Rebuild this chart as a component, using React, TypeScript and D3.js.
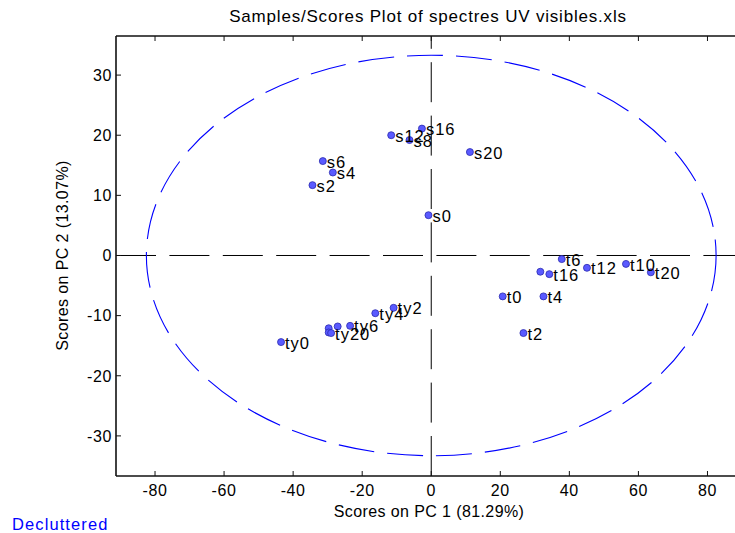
import * as d3 from 'd3';

// sample scores
const sampleNames = [
  's0', 's2', 's4', 's6', 's8', 's12', 's16', 's20',
  't0', 't2', 't4', 't6', 't8', 't16', 't12', 't10', 't20',
  'ty0', 'ty2', 'ty4', 'ty6', 'ty8', 'ty10', 'ty12', 'ty20'
];
const pc1Scores = [
  -0.8, -34.4, -28.5, -31.4, -6.3, -11.6, -2.7, 11.2,
  20.7, 26.7, 32.5, 37.8, 31.6, 34.2, 45.1, 56.4, 63.6,
  -43.5, -10.9, -16.2, -23.5, -27.1, -29.7, -29.7, -29.0
];
const pc2Scores = [
  6.7, 11.7, 13.8, 15.7, 19.2, 20.0, 21.1, 17.2,
  -6.8, -12.9, -6.8, -0.6, -2.7, -3.1, -2.05, -1.4, -2.8,
  -14.4, -8.7, -9.6, -11.7, -11.8, -12.1, -12.8, -12.9
];
// labels hidden by decluttering
const hiddenLabels = ['t8', 'ty8', 'ty10', 'ty12'];

const xTicks = [-80, -60, -40, -20, 0, 20, 40, 60, 80];
const yTicks = [-30, -20, -10, 0, 10, 20, 30];
const ellipseRadii = [82.5, 33.3]; // 95% limit on PC1, PC2

const font = "Arial, 'Liberation Sans', Helvetica, sans-serif";

export default function App() {
  const width = 735;
  const height = 533;
  const x = d3.scaleLinear().domain([-91.3, 90]).range([116, 742]);
  const y = d3.scaleLinear().domain([-36.67, 36.5]).range([476, 36]);
  const [x0, x1] = x.range();
  const [y0, y1] = y.range();
  const tickLen = 5;

  return (
    <svg
      width={width}
      height={height}
      style={{ position: 'absolute', left: 0, top: 0, background: '#fff' }}
      fontFamily={font}
    >
      <text x={428} y={22} textAnchor='middle' fontSize={17} letterSpacing={0.8} fill='#000'>
        Samples/Scores Plot of spectres UV visibles.xls
      </text>

      {/* zero lines */}
      <line x1={x0} x2={x1} y1={y(0)} y2={y(0)} stroke='#000' strokeWidth={1} strokeDasharray='40 13.4' />
      <line x1={x(0)} x2={x(0)} y1={y0} y2={y1} stroke='#000' strokeWidth={1} strokeDasharray='40 13.4' />

      <ellipse
        cx={x(0)}
        cy={y(0)}
        rx={x(ellipseRadii[0]) - x(0)}
        ry={y(0) - y(ellipseRadii[1])}
        fill='none'
        stroke='#0000ff'
        strokeWidth={1.1}
        strokeDasharray='36 13'
      />

      {/* axes box */}
      <g stroke='#111' strokeWidth={1.6} fill='none'>
        <line x1={x0} x2={x1} y1={y0} y2={y0} />
        <line x1={x0} x2={x1} y1={y1} y2={y1} />
        <line x1={x0} x2={x0} y1={y0} y2={y1} />
        <line x1={x1} x2={x1} y1={y0} y2={y1} />
      </g>
      <g stroke='#111' strokeWidth={1}>
        {xTicks.map((t) => (
          <g key={'xt' + t}>
            <line x1={x(t)} x2={x(t)} y1={y0} y2={y0 - tickLen} />
            <line x1={x(t)} x2={x(t)} y1={y1} y2={y1 + tickLen} />
          </g>
        ))}
        {yTicks.map((t) => (
          <line key={'yt' + t} x1={x0} x2={x0 + tickLen} y1={y(t)} y2={y(t)} />
        ))}
      </g>
      <g fontSize={16} letterSpacing={0.6} fill='#000'>
        {xTicks.map((t) => (
          <text key={'xl' + t} x={x(t)} y={496} textAnchor='middle'>
            {t}
          </text>
        ))}
        {yTicks.map((t) => (
          <text key={'yl' + t} x={112} y={y(t)} dy='0.36em' textAnchor='end'>
            {t}
          </text>
        ))}
      </g>

      <text x={429} y={517} textAnchor='middle' fontSize={16} letterSpacing={0.4}>
        Scores on PC 1 (81.29%)
      </text>
      <text
        transform={`translate(68,${y(0)}) rotate(-90)`}
        textAnchor='middle'
        fontSize={16}
        letterSpacing={0.4}
      >
        Scores on PC 2 (13.07%)
      </text>

      {/* samples */}
      <g>
        {sampleNames.map((n, i) => (
          <circle
            key={'p' + n}
            cx={x(pc1Scores[i])}
            cy={y(pc2Scores[i])}
            r={3.5}
            fill='#5a5aff'
            stroke='#2a2ab0'
            strokeWidth={0.8}
          />
        ))}
      </g>
      <g fontSize={16.5} letterSpacing={1} fill='#000'>
        {sampleNames.map((n, i) =>
          hiddenLabels.includes(n) ? null : (
            <text key={'l' + n} x={x(pc1Scores[i]) + 4} y={y(pc2Scores[i])} dy='0.4em'>
              {n}
            </text>
          )
        )}
      </g>

      <text x={12} y={530} fontSize={16.5} letterSpacing={1.1} fill='#0000ff'>
        Decluttered
      </text>
    </svg>
  );
}
